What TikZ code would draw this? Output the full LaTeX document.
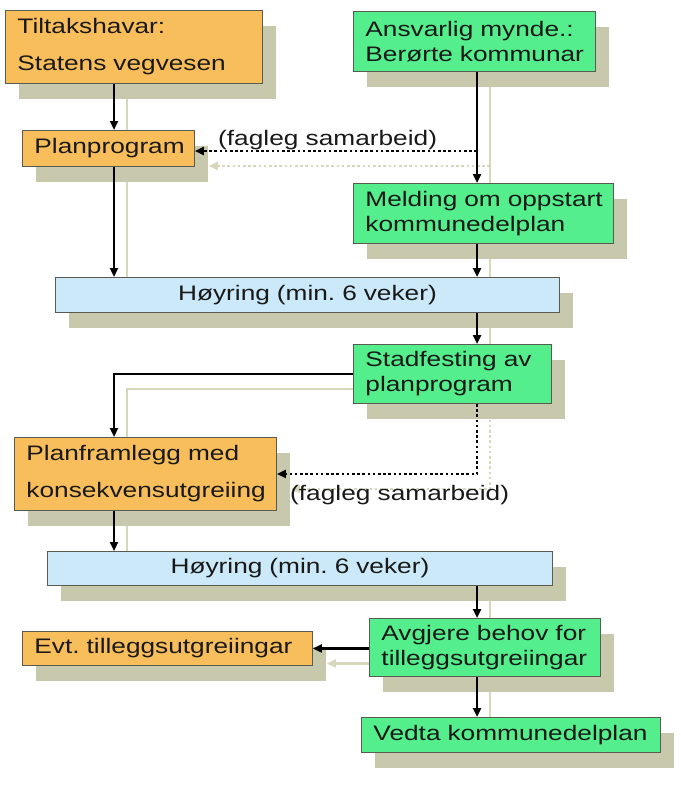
\documentclass[tikz,border=0pt]{standalone}
\usepackage{fontspec}
\setmainfont{Liberation Sans}[FakeStretch=1.25]
\usetikzlibrary{arrows.meta,calc,shadows}
\pgfdeclarelayer{bg}
\pgfsetlayers{bg,main}
\definecolor{orangebox}{RGB}{249,190,92}
\definecolor{greenbox}{RGB}{84,238,140}
\definecolor{bluebox}{RGB}{203,233,248}
\definecolor{shadowc}{RGB}{200,200,172}
\definecolor{shline}{RGB}{214,215,188}
\definecolor{edgec}{RGB}{90,90,80}
\definecolor{txt}{RGB}{25,25,25}
\frenchspacing
\begin{document}
\begin{tikzpicture}[x=1pt,y=-1pt,
  box/.style={draw=edgec,line width=0.9pt,anchor=north west,inner xsep=12pt,inner ysep=0pt,
    align=left,font=\fontsize{21}{25}\selectfont,text=txt,
    drop shadow={shadow xshift=14pt,shadow yshift=-15.5pt,fill=shadowc,opacity=1,draw=none}},
  obox/.style={box,fill=orangebox},
  gbox/.style={box,fill=greenbox},
  bbox/.style={box,fill=bluebox,align=center},
  lbl/.style={inner sep=0pt,font=\fontsize{21}{25}\selectfont,text=txt},
  tip/.style={-{Triangle[length=9pt,width=8pt]}},
  arr/.style={line width=2.8pt,black,tip},
  dotarr/.style={line width=2.8pt,black,dash pattern=on 2.6pt off 2.6pt,tip},
  shl/.style={line width=2.8pt,shline},
  shdot/.style={line width=2.8pt,shline,dash pattern=on 2.6pt off 2.6pt,tip}]
\useasboundingbox (0,0) rectangle (680,787);
% columns
\coordinate (colL) at (114,0);
\coordinate (colR) at (477,0);
\coordinate (colLs) at (127,0);
\coordinate (colRs) at (490,0);
\coordinate (j1) at (477,151);
% boxes
\node[obox,text width=233pt,minimum height=73pt] (tilt) at (5,10) {\mbox{Tiltakshavar:}\\[12pt]\mbox{Statens vegvesen}};
\node[gbox,text width=218pt,minimum height=60pt] (ansv) at (353,11) {\mbox{Ansvarlig mynde.:}\\\mbox{Berørte kommunar}};
\node[obox,text width=148pt,minimum height=36pt] (plan) at (22,130) {\mbox{Planprogram}};
\node[gbox,text width=236pt,minimum height=60pt] (meld) at (353,183) {\mbox{Melding om oppstart}\\\mbox{kommunedelplan}};
\node[bbox,text width=480pt,minimum height=35pt] (hoy1) at (55,277) {Høyring (min. 6 veker)};
\node[gbox,text width=174pt,minimum height=59pt] (stad) at (353,344) {\mbox{Stadfesting av}\\\mbox{planprogram}};
\node[obox,text width=238pt,minimum height=73pt] (pfl) at (14,437) {\mbox{Planframlegg med}\\[12pt]\mbox{konsekvensutgreiing}};
\node[bbox,text width=481pt,minimum height=34pt] (hoy2) at (47,551) {Høyring (min. 6 veker)};
\node[gbox,text width=207pt,minimum height=58pt] (avg) at (369,618) {\mbox{Avgjere behov for}\\\mbox{tilleggsutgreiingar}};
\node[obox,text width=266pt,minimum height=34pt] (evt) at (22,631) {\mbox{Evt. tilleggsutgreiingar}};
\node[gbox,text width=275pt,minimum height=35pt] (vedta) at (361,717) {\mbox{Vedta kommunedelplan}};
% labels
\node[lbl,anchor=base west] (lab1) at (218,145) {(fagleg samarbeid)};
\node[lbl,anchor=base west] (lab2) at (290,500) {(fagleg samarbeid)};
% shadow connectors
\begin{pgfonlayer}{bg}
\draw[shl] (tilt.south -| colLs) -- (hoy1.north -| colLs);
\draw[shl] (ansv.south -| colRs) -- (stad.north -| colRs);
\draw[shdot] ($(j1)+(13,15)$) -- ($(plan.east |- j1)+(14,15)$);
\draw[shl] ($(stad.west)+(0,15)$) -| (pfl.north -| colLs);
\draw[shdot] (stad.south -| colRs) |- ($(pfl.east)+(14,15)$);
\draw[shl] (pfl.south -| colLs) -- (hoy2.north -| colLs);
\draw[shl] (hoy2.south -| colRs) -- (vedta.north -| colRs);
\draw[shl,tip] ($(avg.west |- evt.east)+(0,15)$) -- ($(evt.east)+(14,15)$);
\end{pgfonlayer}
% connectors
\draw[arr] (tilt.south -| colL) -- (plan.north -| colL);
\draw[arr] (plan.south -| colL) -- (hoy1.north -| colL);
\draw[arr] (ansv.south -| colR) -- (meld.north -| colR);
\draw[dotarr] (j1) -- (plan.east |- j1);
\draw[arr] (meld.south -| colR) -- (hoy1.north -| colR);
\draw[arr] (hoy1.south -| colR) -- (stad.north -| colR);
\draw[arr] (stad.west) -| (pfl.north -| colL);
\draw[dotarr] (stad.south -| colR) |- (pfl.east);
\draw[arr] (pfl.south -| colL) -- (hoy2.north -| colL);
\draw[arr] (hoy2.south -| colR) -- (avg.north -| colR);
\draw[arr] (avg.west |- evt.east) -- (evt.east);
\draw[arr] (avg.south -| colR) -- (vedta.north -| colR);
\end{tikzpicture}
\end{document}
